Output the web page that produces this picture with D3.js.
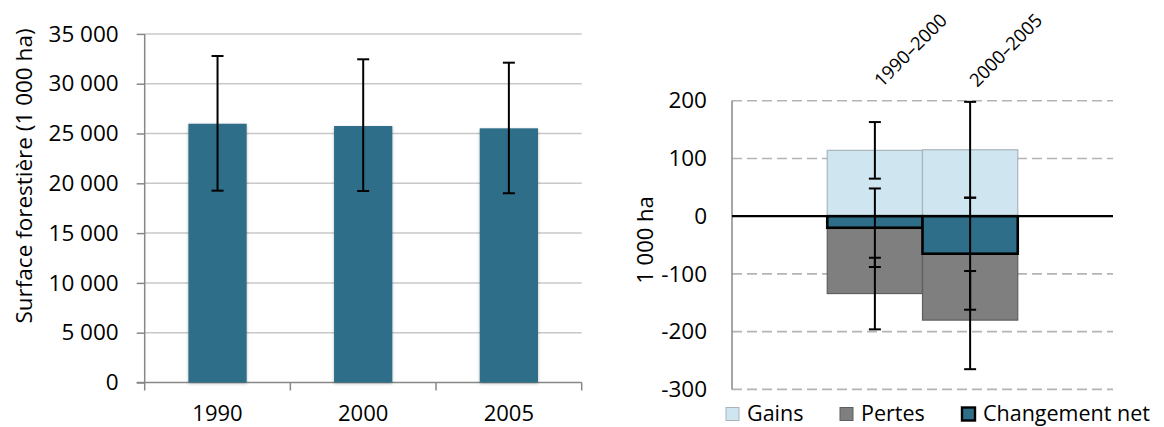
<!DOCTYPE html>
<html>
<head>
<meta charset="utf-8">
<script src="https://cdn.jsdelivr.net/npm/d3@7"></script>
<style>
  html, body { margin: 0; padding: 0; background: #fff; }
  svg { display: block; font-family: "Open Sans", sans-serif; }
  svg text { font-family: "Open Sans", sans-serif; fill: #000; }
</style>
</head>
<body>
<svg id="chart" width="1164" height="427"></svg>
<script>
// ---------- Data: left chart (forest area) ----------
const years = ["1990", "2000", "2005"];
const forestArea = [25980, 25750, 25520];
const forestErrHigh = [32780, 32450, 32110];
const forestErrLow = [19260, 19230, 19000];
const leftTicks = [0, 5000, 10000, 15000, 20000, 25000, 30000, 35000];
const leftTitle = "Surface forestière (1 000 ha)";

// ---------- Data: right chart (changes) ----------
const periods = ["1990–2000", "2000–2005"];
const gains = [114, 115];
const gainsErr = [49, 83];
const losses = [-134, -180];
const lossesErr = [62, 85];
const netChange = [-20, -65];
const netErr = [68, 97];
const rightTicks = [-300, -200, -100, 0, 100, 200];
const rightTitle = "1 000 ha";
const legendLabels = ["Gains", "Pertes", "Changement net"];

// ---------- Styles ----------
const colBar = "#2e6e88";
const colGains = "#cfe5ef";
const colLoss = "#7f7f7f";
const colAxis = "#878787";
const colGrid = "#c8c8c8";

const svg = d3.select("#chart");
const defs = svg.append("defs");
const f = defs.append("filter").attr("id", "shadow").attr("x", "-20%").attr("y", "-5%").attr("width", "140%").attr("height", "110%");
f.append("feDropShadow").attr("dx", 0).attr("dy", 1).attr("stdDeviation", 1.6).attr("flood-color", "#000").attr("flood-opacity", 0.28);

const fmt = d3.formatLocale({decimal: ",", thousands: "\u00a0", grouping: [3], currency: ["", ""], minus: "-"}).format(",d");

// ================= LEFT CHART =================
const L = {x0: 144.7, x1: 581.7, yTop: 33.9, yBot: 382.5};
const xL = d3.scaleBand().domain(years).range([L.x0, L.x1]).paddingInner(0.6).paddingOuter(0.3);
const yL = d3.scaleLinear().domain([0, 35000]).range([L.yBot, L.yTop]);

const gL = svg.append("g");
// gridlines
gL.selectAll("line.grid").data(leftTicks.filter(t => t > 0)).join("line")
  .attr("x1", L.x0).attr("x2", L.x1)
  .attr("y1", d => yL(d)).attr("y2", d => yL(d))
  .attr("stroke", colGrid).attr("stroke-width", 1.5);

// y axis
const axL = gL.append("g").attr("transform", `translate(${L.x0},0)`)
  .call(d3.axisLeft(yL).tickValues(leftTicks).tickSize(8).tickPadding(18).tickFormat(fmt));
axL.attr("font-size", null).attr("font-family", null);
axL.select(".domain").attr("stroke", colAxis).attr("stroke-width", 1.5).attr("d", `M0,${L.yTop}V${L.yBot}`);
axL.selectAll(".tick line").attr("stroke", colAxis).attr("stroke-width", 1.5);
axL.selectAll(".tick text").style("font-size", "22.5px");

// x axis
const stepL = (L.x1 - L.x0) / years.length;
gL.append("line").attr("x1", L.x0 - 8).attr("x2", L.x1).attr("y1", L.yBot).attr("y2", L.yBot)
  .attr("stroke", colAxis).attr("stroke-width", 1.5);
gL.selectAll("line.xtick").data(d3.range(years.length + 1)).join("line")
  .attr("x1", i => L.x0 + i * stepL).attr("x2", i => L.x0 + i * stepL)
  .attr("y1", L.yBot).attr("y2", L.yBot + 8)
  .attr("stroke", colAxis).attr("stroke-width", 1.5);
gL.selectAll("text.xlab").data(years).join("text")
  .attr("x", d => xL(d) + xL.bandwidth() / 2).attr("y", 420.5)
  .attr("text-anchor", "middle").style("font-size", "22px")
  .text(d => d);

// bars
gL.selectAll("rect.bar").data(years).join("rect")
  .attr("x", d => xL(d)).attr("width", xL.bandwidth())
  .attr("y", (d, i) => yL(forestArea[i])).attr("height", (d, i) => yL(0) - yL(forestArea[i]))
  .attr("fill", colBar).attr("filter", "url(#shadow)");

// error bars
years.forEach((d, i) => {
  const cx = xL(d) + xL.bandwidth() / 2;
  const g = gL.append("g").attr("stroke", "#000").attr("stroke-width", 2);
  g.append("line").attr("x1", cx).attr("x2", cx).attr("y1", yL(forestErrHigh[i])).attr("y2", yL(forestErrLow[i]));
  [forestErrHigh[i], forestErrLow[i]].forEach(v => {
    g.append("line").attr("x1", cx - 6).attr("x2", cx + 6).attr("y1", yL(v)).attr("y2", yL(v));
  });
});

// title
svg.append("text").attr("transform", "translate(32,176) rotate(-90)")
  .attr("text-anchor", "middle").style("font-size", "22.5px").text(leftTitle);

// ================= RIGHT CHART =================
const R = {x0: 732, x1: 1113, yTop: 100.7, yBot: 389.4};
const slots = ["_a", ...periods, "_b"];
const xR = d3.scaleBand().domain(slots).range([R.x0, R.x1]).padding(0);
const yR = d3.scaleLinear().domain([-300, 200]).range([R.yBot, R.yTop]);
const gR = svg.append("g");

// dashed gridlines
gR.selectAll("line.grid").data(rightTicks.filter(t => t !== 0)).join("line")
  .attr("x1", R.x0).attr("x2", R.x1)
  .attr("y1", d => yR(d)).attr("y2", d => yR(d))
  .attr("stroke", "#b4b4b4").attr("stroke-width", 1.6).attr("stroke-dasharray", "10,5");

// y axis
const axR = gR.append("g").attr("transform", `translate(${R.x0},0)`)
  .call(d3.axisLeft(yR).tickValues(rightTicks).tickSize(0).tickPadding(25).tickFormat(fmt));
axR.attr("font-size", null).attr("font-family", null);
axR.select(".domain").attr("stroke", colAxis).attr("stroke-width", 1.5).attr("d", `M0,${R.yTop}V${R.yBot}`);
axR.selectAll(".tick text").style("font-size", "22.5px");

// bars
const bw = xR.bandwidth();
function barRect(vals, fill, stroke, sw) {
  gR.selectAll(null).data(periods).join("rect")
    .attr("x", d => xR(d)).attr("width", bw)
    .attr("y", (d, i) => Math.min(yR(0), yR(vals[i])))
    .attr("height", (d, i) => Math.abs(yR(vals[i]) - yR(0)))
    .attr("fill", fill).attr("stroke", stroke).attr("stroke-width", sw);
}
barRect(gains, colGains, "#a9b5ba", 1.2);
barRect(losses, colLoss, "#5e5e5e", 1.2);

// zero line
gR.append("line").attr("x1", R.x0).attr("x2", R.x1).attr("y1", yR(0)).attr("y2", yR(0))
  .attr("stroke", "#000").attr("stroke-width", 2.2);

barRect(netChange, colBar, "#000", 2.6);

// error bars
function errBars(vals, errs) {
  periods.forEach((d, i) => {
    const cx = xR(d) + bw / 2;
    const hi = vals[i] + errs[i], lo = vals[i] - errs[i];
    const g = gR.append("g").attr("stroke", "#000").attr("stroke-width", 2);
    g.append("line").attr("x1", cx).attr("x2", cx).attr("y1", yR(hi)).attr("y2", yR(lo));
    [hi, lo].forEach(v => g.append("line").attr("x1", cx - 6).attr("x2", cx + 6).attr("y1", yR(v)).attr("y2", yR(v)));
  });
}
errBars(gains, gainsErr);
errBars(losses, lossesErr);
errBars(netChange, netErr);

// rotated category labels
gR.selectAll("text.cat").data(periods).join("text")
  .attr("transform", d => `translate(${xR(d) + bw / 2 + 7},88) rotate(-45)`)
  .style("font-size", "18.5px").text(d => d);

// title
svg.append("text").attr("transform", "translate(653,240) rotate(-90)")
  .attr("text-anchor", "middle").style("font-size", "22px").text(rightTitle);

// legend
const legendX = [726, 840, 962];
const legendFill = [colGains, colLoss, colBar];
const legendStroke = ["#a9b5ba", "#5e5e5e", "#000"];
const legendSW = [1, 1, 2.4];
const lg = svg.append("g");
legendLabels.forEach((lab, i) => {
  lg.append("rect").attr("x", legendX[i]).attr("y", 407.5).attr("width", 13).attr("height", 13)
    .attr("fill", legendFill[i]).attr("stroke", legendStroke[i]).attr("stroke-width", legendSW[i]);
  lg.append("text").attr("x", legendX[i] + 21).attr("y", 420.5).style("font-size", "21.5px").text(lab);
});
</script>
</body>
</html>
